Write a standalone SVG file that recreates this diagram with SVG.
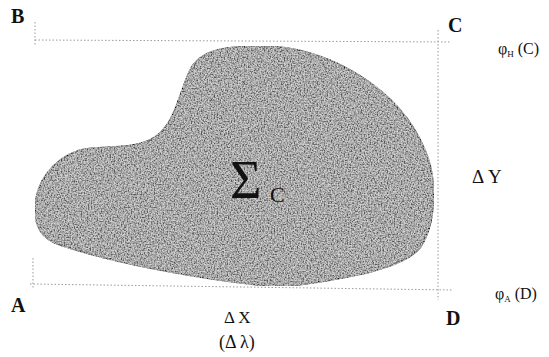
<svg xmlns="http://www.w3.org/2000/svg" width="549" height="357" viewBox="0 0 549 357">
<style>
.lbl{font-family:"Liberation Serif","DejaVu Serif",serif;fill:#111}
.big{font-weight:bold;font-size:20px}
.guide{stroke:#9a9a9a;stroke-width:1;stroke-dasharray:1.5 2;fill:none}
</style>
<defs>
<filter id="grain" x="0" y="0" width="100%" height="100%">
<feTurbulence type="fractalNoise" baseFrequency="0.7" numOctaves="2" seed="3" result="n"/>
<feColorMatrix in="n" type="matrix" values="2.2 0 0 0 -0.55  2.2 0 0 0 -0.55  2.2 0 0 0 -0.55  0 0 0 0 0.55" result="g"/>
<feComposite in="g" in2="SourceGraphic" operator="in" result="g2"/>
<feMerge><feMergeNode in="SourceGraphic"/><feMergeNode in="g2"/></feMerge>
</filter>
</defs>
<rect width="549" height="357" fill="#fff"/>
<g id="guides">
<line class="guide" x1="35" y1="40" x2="450" y2="42"/>
<line class="guide" x1="35" y1="22" x2="35" y2="45"/>
<line class="guide" x1="438" y1="30" x2="438" y2="300"/>
<line class="guide" x1="30" y1="284" x2="452" y2="290"/>
<line class="guide" x1="33" y1="258" x2="33" y2="288"/>
</g>
<g id="region">
<path d="M 35 210 C 35 185, 50 160, 80 150 C 100 145, 130 150, 150 140 C 175 128, 178 95, 190 70 C 200 50, 225 46, 260 46 C 330 46, 400 90, 425 150 C 438 180, 436 225, 420 248 C 400 272, 330 280, 293 286 L 270 286 C 200 280, 110 262, 60 245 C 40 238, 35 225, 35 210 Z" fill="#7e7e7e" stroke="#222" stroke-width="1.5" filter="url(#grain)"/>
<text class="lbl" x="230" y="198" font-size="54">Σ</text>
<text class="lbl" x="270" y="202" font-size="22">C</text>
</g>
<g id="B"><text class="lbl big" x="11" y="23">B</text></g>
<g id="C"><text class="lbl big" x="448" y="32">C</text></g>
<g id="A"><text class="lbl big" x="11" y="312">A</text></g>
<g id="D"><text class="lbl big" x="446" y="325">D</text></g>
<g id="phiH"><text class="lbl" x="498" y="54" font-size="16">φ<tspan font-size="9" dy="3">H</tspan><tspan dy="-3"> (C)</tspan></text></g>
<g id="phiA"><text class="lbl" x="495" y="299" font-size="16">φ<tspan font-size="9" dy="3">A</tspan><tspan dy="-3"> (D)</tspan></text></g>
<g id="dY"><text class="lbl" x="472" y="183" font-size="19">Δ Y</text></g>
<g id="dX"><text class="lbl" x="224" y="323" font-size="17">Δ X</text>
<text class="lbl" x="219" y="348" font-size="18">(Δ λ)</text></g>
</svg>
